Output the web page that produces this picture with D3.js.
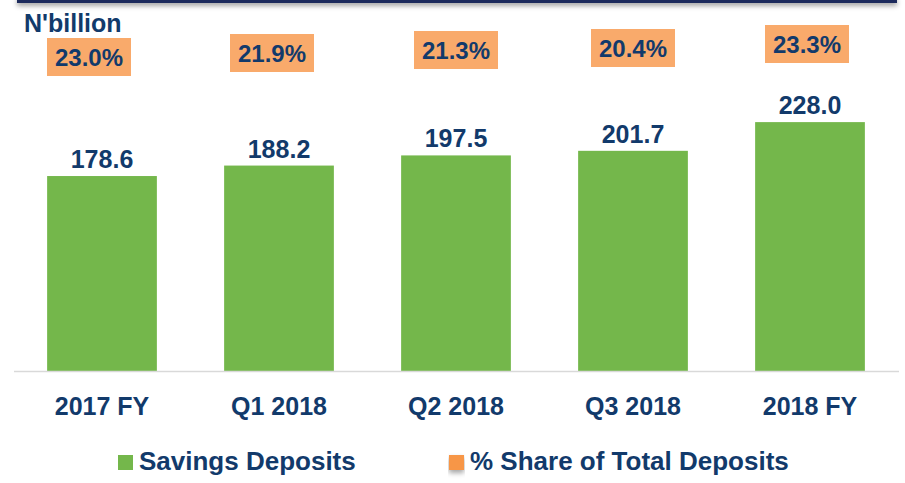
<!DOCTYPE html>
<html>
<head>
<meta charset="utf-8">
<script src="https://cdn.jsdelivr.net/npm/d3@7"></script>
<style>
  body { margin: 0; background: #fff; }
  text { font-family: "Liberation Sans", Arial, sans-serif; font-weight: bold; fill: #123a6b; }
</style>
</head>
<body>
<div id="chart"></div>
<script>
// data
const categories = ['2017 FY', 'Q1 2018', 'Q2 2018', 'Q3 2018', '2018 FY'];
const savings = [178.6, 188.2, 197.5, 201.7, 228.0];
const shareOfTotal = [23.0, 21.9, 21.3, 20.4, 23.3];
const seriesNames = ['Savings Deposits', '% Share of Total Deposits'];

// hand placed label boxes in the original (dx from bar centre, y of box centre)
const boxNudge = [
  { dx: -13, cy: 57 }, { dx: -7, cy: 53 }, { dx: 0, cy: 50 }, { dx: 0, cy: 48 }, { dx: -3, cy: 44 }
];

const width = 905, height = 483;
const green = '#74b74b', boxFill = '#f9aa6b', orange = '#f79646';

const svg = d3.select('#chart').append('svg')
  .attr('width', width)
  .attr('height', height);

const defs = svg.append('defs');
const shadow = defs.append('filter').attr('id', 'shadow')
  .attr('x', '-5%').attr('y', '-100%').attr('width', '110%').attr('height', '400%');
shadow.append('feDropShadow')
  .attr('dx', 0).attr('dy', 3).attr('stdDeviation', 2.5)
  .attr('flood-color', '#000').attr('flood-opacity', 0.35);

// top banner edge
svg.append('rect')
  .attr('x', 17).attr('y', -4)
  .attr('width', 880).attr('height', 7)
  .attr('fill', '#1f2b5c')
  .attr('filter', 'url(#shadow)');

const xScale = d3.scaleBand()
  .domain(categories)
  .range([13.5, 898.5])
  .paddingInner(0.38)
  .paddingOuter(0.19);

const yScale = d3.scaleLinear()
  .domain([0, 250])
  .range([371, 98.1]);

// bars
svg.selectAll('rect.bar')
  .data(savings)
  .enter()
  .append('rect')
  .attr('class', 'bar')
  .attr('x', (d, i) => xScale(categories[i]))
  .attr('y', d => yScale(d))
  .attr('width', xScale.bandwidth())
  .attr('height', d => yScale(0) - yScale(d))
  .attr('fill', green);

// baseline axis
const xAxis = d3.axisBottom(xScale).tickSize(0).tickPadding(26);
const axisG = svg.append('g')
  .attr('transform', `translate(0, ${yScale(0)})`)
  .call(xAxis);
axisG.select('.domain').attr('stroke', '#d9d9d9').attr('stroke-width', 1.5);
axisG.selectAll('text')
  .attr('fill', '#123a6b')
  .style('font-size', '25px')
  .style('font-family', '"Liberation Sans", Arial, sans-serif')
  .style('font-weight', 'bold');

// value labels
svg.selectAll('text.val')
  .data(savings)
  .enter()
  .append('text')
  .attr('class', 'val')
  .attr('x', (d, i) => xScale(categories[i]) + xScale.bandwidth() / 2)
  .attr('y', d => yScale(d) - 8)
  .attr('text-anchor', 'middle')
  .style('font-size', '25px')
  .text(d => d.toFixed(1));

// % share boxes
const boxW = 84, boxH = 38;
const boxes = svg.selectAll('g.share')
  .data(shareOfTotal)
  .enter()
  .append('g')
  .attr('class', 'share')
  .attr('transform', (d, i) => {
    const cx = xScale(categories[i]) + xScale.bandwidth() / 2 + boxNudge[i].dx;
    return `translate(${cx}, ${boxNudge[i].cy})`;
  });
boxes.append('rect')
  .attr('x', -boxW / 2).attr('y', -boxH / 2)
  .attr('width', boxW).attr('height', boxH)
  .attr('fill', boxFill);
boxes.append('text')
  .attr('text-anchor', 'middle')
  .attr('dy', '0.36em')
  .style('font-size', '24px')
  .text(d => d.toFixed(1) + '%');

// unit label
svg.append('text')
  .attr('x', 24).attr('y', 32)
  .style('font-size', '25px')
  .text("N'billion");

// legend
const legend = [
  { name: seriesNames[0], color: green, x: 118, shadow: false },
  { name: seriesNames[1], color: orange, x: 449, shadow: true }
];
const lg = svg.selectAll('g.legend')
  .data(legend)
  .enter()
  .append('g')
  .attr('class', 'legend')
  .attr('transform', d => `translate(${d.x}, 455)`);
lg.append('rect')
  .attr('width', 15).attr('height', 15)
  .attr('fill', d => d.color)
  .attr('filter', d => d.shadow ? 'url(#shadow)' : null);
lg.append('text')
  .attr('x', 21).attr('y', 14.5)
  .style('font-size', '26px')
  .text(d => d.name);
</script>
</body>
</html>
